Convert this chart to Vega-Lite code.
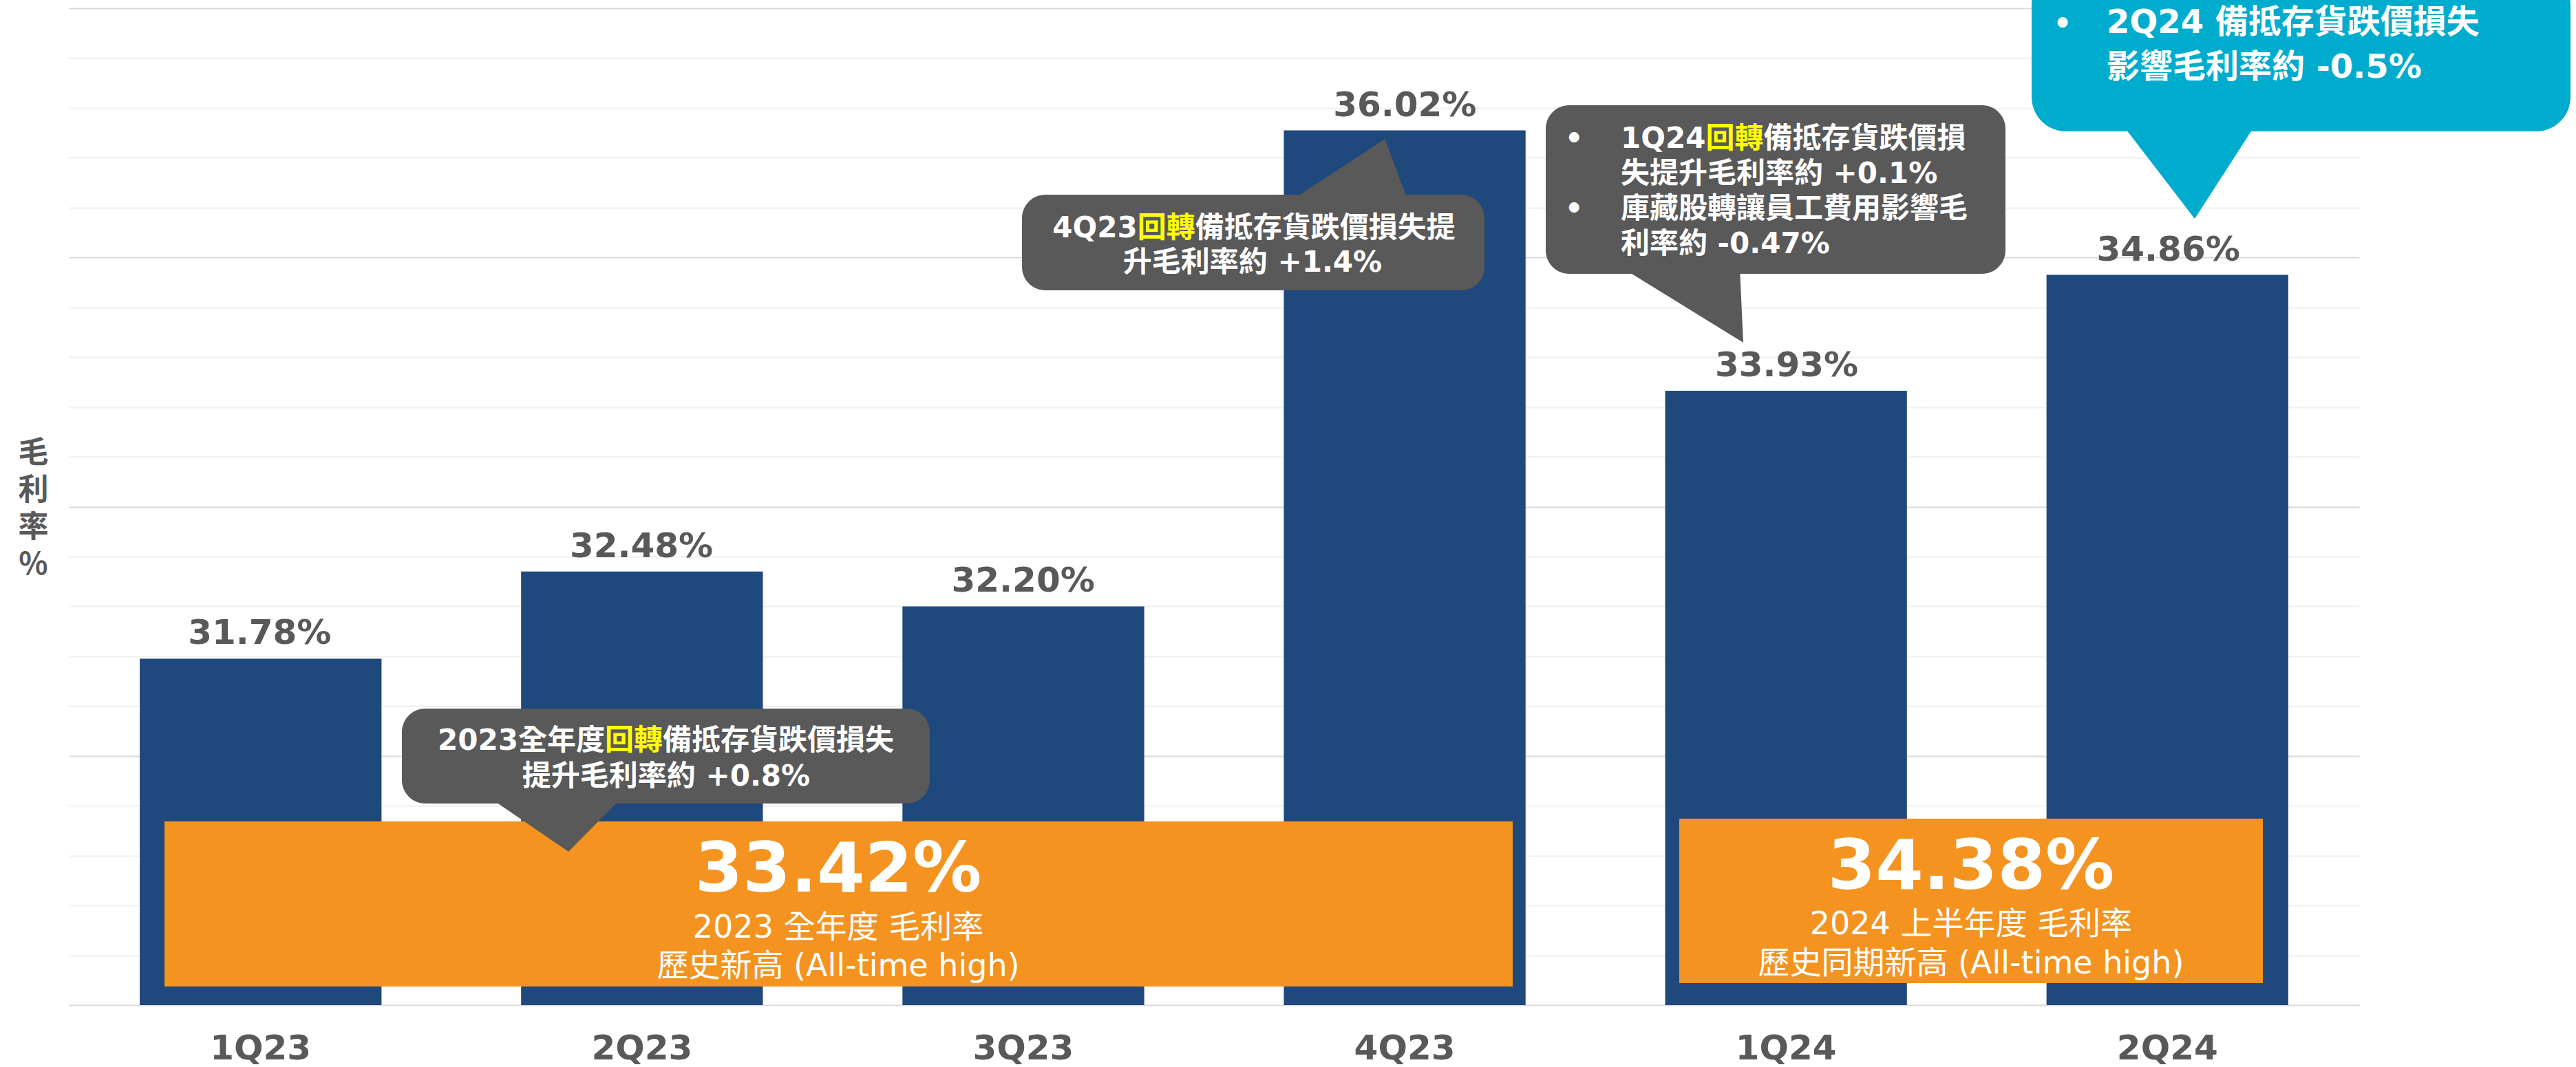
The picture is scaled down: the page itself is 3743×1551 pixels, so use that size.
{
  "$schema": "https://vega.github.io/schema/vega-lite/v6.json",
  "width": 3328,
  "height": 1449,
  "autosize": {"type": "none"},
  "padding": {"left": 100, "top": 12, "right": 315, "bottom": 90},
  "background": "#ffffff",
  "config": {"view": {"stroke": null}},
  "datasets": {
    "bars": [
      {"q": "1Q23", "gm": 31.78, "label": "31.78%"},
      {"q": "2Q23", "gm": 32.48, "label": "32.48%"},
      {"q": "3Q23", "gm": 32.20, "label": "32.20%"},
      {"q": "4Q23", "gm": 36.02, "label": "36.02%"},
      {"q": "1Q24", "gm": 33.93, "label": "33.93%"},
      {"q": "2Q24", "gm": 34.86, "label": "34.86%"}
    ],
    "summary": [
      {"id": "FY2023", "x0": 0.2506, "x1": 3.7824, "y0": 29.149, "y1": 30.474},
      {"id": "1H2024", "x0": 4.2187, "x1": 5.7476, "y0": 29.177, "y1": 30.496}
    ],
    "notes": [
      {"id": "c", "x0": 0.8726, "x1": 2.2554, "y0": 30.6177, "y1": 31.3796},
      {"id": "d", "x0": 2.497, "x1": 3.7085, "y0": 34.7364, "y1": 35.504},
      {"id": "e", "x0": 3.869, "x1": 5.0733, "y0": 34.869, "y1": 36.2216}
    ],
    "outlook": [
      {"id": "f", "x0": 5.1418, "x1": 6.5535, "y0": 36.0118, "y1": 37.3}
    ],
    "pointers": [
      {"id": "c", "box": "note", "y": 30.6619, "xl": 1.1034, "xr": 1.4477},
      {"id": "c", "box": "note", "y": 30.2312, "xl": 1.3089, "xr": 1.3089},
      {"id": "d", "box": "note", "y": 35.465, "xl": 3.2056, "xr": 3.5066},
      {"id": "d", "box": "note", "y": 35.951, "xl": 3.4479, "xr": 3.4479},
      {"id": "e", "box": "note", "y": 34.913, "xl": 4.0709, "xr": 4.3774},
      {"id": "e", "box": "note", "y": 34.3168, "xl": 4.3864, "xr": 4.3864},
      {"id": "f", "box": "outlook", "y": 36.0725, "xl": 5.378, "xr": 5.7296},
      {"id": "f", "box": "outlook", "y": 35.3106, "xl": 5.5691, "xr": 5.5691}
    ],
    "texts": [
      {"role": "big", "t": "33.42%", "x": 2.0156, "y": 29.911},
      {"role": "big", "t": "34.38%", "x": 4.983, "y": 29.933},
      {"role": "sub", "t": "2023 全年度 毛利率", "x": 2.0156, "y": 29.541},
      {"role": "sub", "t": "歷史新高 (All-time high)", "x": 2.0156, "y": 29.232},
      {"role": "sub", "t": "2024 上半年度 毛利率", "x": 4.983, "y": 29.569},
      {"role": "sub", "t": "歷史同期新高 (All-time high)", "x": 4.983, "y": 29.254},
      {"role": "note_c", "t": "提升毛利率約 +0.8%", "x": 1.5649, "y": 30.7612},
      {"role": "note_c", "t": "升毛利率約 +1.4%", "x": 3.101, "y": 34.8854},
      {"role": "note_l", "t": "失提升毛利率約 +0.1%", "x": 4.0655, "y": 35.5977},
      {"role": "note_l", "t": "庫藏股轉讓員工費用影響毛", "x": 4.0655, "y": 35.3161},
      {"role": "note_l", "t": "利率約 -0.47%", "x": 4.0655, "y": 35.0345},
      {"role": "out", "t": "2Q24 備抵存貨跌價損失", "x": 5.3384, "y": 36.8012},
      {"role": "out", "t": "影響毛利率約 -0.5%", "x": 5.3384, "y": 36.4424},
      {"role": "bullet", "t": "•", "x": 3.943, "y": 35.8792},
      {"role": "bullet", "t": "•", "x": 3.943, "y": 35.3161},
      {"role": "bullet", "t": "•", "x": 5.223, "y": 36.8012}
    ],
    "segs": [
      {"part": "pre", "t": "2023全年度", "x": 1.40427, "y": 31.0483},
      {"part": "hi", "t": "回轉", "x": 1.40427, "y": 31.0483},
      {"part": "rest", "t": "備抵存貨跌價損失", "x": 1.55572, "y": 31.0483},
      {"part": "pre", "t": "4Q23", "x": 2.79932, "y": 35.1615},
      {"part": "hi", "t": "回轉", "x": 2.79932, "y": 35.1615},
      {"part": "rest", "t": "備抵存貨跌價損失提", "x": 2.95076, "y": 35.1615},
      {"part": "pre", "t": "1Q24", "x": 4.28798, "y": 35.8792},
      {"part": "hi", "t": "回轉", "x": 4.28798, "y": 35.8792},
      {"part": "rest", "t": "備抵存貨跌價損", "x": 4.43942, "y": 35.8792}
    ]
  },
  "layer": [
    {
      "data": {"name": "bars"},
      "mark": {"type": "bar", "color": "#1F487C"},
      "encoding": {
        "x": {
          "field": "q", "type": "nominal", "sort": null,
          "scale": {"paddingInner": 0.366, "paddingOuter": 0.186},
          "axis": {
            "title": null, "labelAngle": 0, "ticks": false, "tickSize": 0, "domain": false, "grid": false,
            "labelFont": "DejaVu Sans", "labelFontWeight": "bold", "labelFontSize": 50,
            "labelColor": "#595959", "labelBaseline": "alphabetic", "labelPadding": 78
          }
        },
        "y": {
          "field": "gm", "type": "quantitative",
          "scale": {"domain": [29, 37], "zero": false, "nice": false},
          "axis": {
            "title": ["毛", "利", "率", "%"],
            "titleAngle": 0, "titleX": -52, "titleY": 647,
            "titleAlign": "center", "titleBaseline": "middle",
            "titleFont": "'Noto Sans CJK TC', 'DejaVu Sans'", "titleFontSize": 44, "titleFontWeight": "bold",
            "titleColor": "#595959", "titleLineHeight": 54,
            "labels": false, "ticks": false, "domain": false, "grid": true,
            "values": [29, 29.2, 29.4, 29.6, 29.8, 30, 30.2, 30.4, 30.6, 30.8, 31, 31.2, 31.4, 31.6, 31.8, 32, 32.2, 32.4, 32.6, 32.8, 33, 33.2, 33.4, 33.6, 33.8, 34, 34.2, 34.4, 34.6, 34.8, 35, 35.2, 35.4, 35.6, 35.8, 36, 36.2, 36.4, 36.6, 36.8, 37],
            "gridWidth": 2,
            "gridColor": {"condition": {"test": "abs(datum.value - round(datum.value)) < 0.01", "value": "#D9D9D9"}, "value": "#F0F0F0"}
          }
        },
        "y2": {"datum": 29}
      }
    },
    {
      "data": {"name": "bars"},
      "mark": {"type": "text", "font": "DejaVu Sans", "fontWeight": "bold", "fontSize": 50, "color": "#595959", "baseline": "alphabetic", "dy": -21},
      "encoding": {
        "x": {"field": "q", "type": "nominal", "sort": null, "scale": {"paddingInner": 0.366, "paddingOuter": 0.186}, "axis": null},
        "y": {"field": "gm", "type": "quantitative"},
        "text": {"field": "label"}
      }
    },
    {
      "data": {"name": "summary"},
      "mark": {"type": "rect", "color": "#F49320"},
      "encoding": {
        "x": {"field": "x0", "type": "quantitative", "scale": {"domain": [0, 6], "nice": false, "zero": false}, "axis": null},
        "x2": {"field": "x1"},
        "y": {"field": "y0", "type": "quantitative"},
        "y2": {"field": "y1"}
      }
    },
    {
      "data": {"name": "notes"},
      "mark": {"type": "rect", "color": "#595959", "cornerRadius": 34},
      "encoding": {
        "x": {"field": "x0", "type": "quantitative", "scale": {"domain": [0, 6], "nice": false, "zero": false}, "axis": null},
        "x2": {"field": "x1"},
        "y": {"field": "y0", "type": "quantitative"},
        "y2": {"field": "y1"}
      }
    },
    {
      "data": {"name": "outlook"},
      "mark": {"type": "rect", "color": "#00ACCD", "cornerRadius": 50},
      "encoding": {
        "x": {"field": "x0", "type": "quantitative", "scale": {"domain": [0, 6], "nice": false, "zero": false}, "axis": null},
        "x2": {"field": "x1"},
        "y": {"field": "y0", "type": "quantitative"},
        "y2": {"field": "y1"}
      }
    },
    {
      "data": {"name": "pointers"},
      "mark": {"type": "area", "orient": "horizontal"},
      "encoding": {
        "y": {"field": "y", "type": "quantitative"},
        "x": {"field": "xl", "type": "quantitative", "scale": {"domain": [0, 6], "nice": false, "zero": false}, "axis": null},
        "x2": {"field": "xr"},
        "detail": {"field": "id"},
        "color": {"field": "box", "type": "nominal", "scale": {"domain": ["note", "outlook"], "range": ["#595959", "#00ACCD"]}, "legend": null}
      }
    },
    {
      "data": {"name": "texts"},
      "transform": [{"filter": "datum.role === 'big'"}],
      "mark": {"type": "text", "font": "DejaVu Sans", "fontWeight": "bold", "fontSize": 100, "color": "#ffffff", "align": "center", "baseline": "alphabetic"},
      "encoding": {
        "x": {"field": "x", "type": "quantitative", "scale": {"domain": [0, 6], "nice": false, "zero": false}, "axis": null},
        "y": {"field": "y", "type": "quantitative"},
        "text": {"field": "t"}
      }
    },
    {
      "data": {"name": "texts"},
      "transform": [{"filter": "datum.role === 'sub'"}],
      "mark": {"type": "text", "font": "'DejaVu Sans', 'Noto Sans CJK TC'", "fontWeight": "normal", "fontSize": 46, "color": "#ffffff", "align": "center", "baseline": "alphabetic"},
      "encoding": {
        "x": {"field": "x", "type": "quantitative", "scale": {"domain": [0, 6], "nice": false, "zero": false}, "axis": null},
        "y": {"field": "y", "type": "quantitative"},
        "text": {"field": "t"}
      }
    },
    {
      "data": {"name": "texts"},
      "transform": [{"filter": "datum.role === 'note_c'"}],
      "mark": {"type": "text", "font": "'DejaVu Sans', 'Noto Sans CJK TC'", "fontWeight": "bold", "fontSize": 42, "color": "#ffffff", "align": "center", "baseline": "alphabetic"},
      "encoding": {
        "x": {"field": "x", "type": "quantitative", "scale": {"domain": [0, 6], "nice": false, "zero": false}, "axis": null},
        "y": {"field": "y", "type": "quantitative"},
        "text": {"field": "t"}
      }
    },
    {
      "data": {"name": "texts"},
      "transform": [{"filter": "datum.role === 'note_l'"}],
      "mark": {"type": "text", "font": "'DejaVu Sans', 'Noto Sans CJK TC'", "fontWeight": "bold", "fontSize": 42, "color": "#ffffff", "align": "left", "baseline": "alphabetic"},
      "encoding": {
        "x": {"field": "x", "type": "quantitative", "scale": {"domain": [0, 6], "nice": false, "zero": false}, "axis": null},
        "y": {"field": "y", "type": "quantitative"},
        "text": {"field": "t"}
      }
    },
    {
      "data": {"name": "segs"},
      "transform": [{"filter": "datum.part === 'pre'"}],
      "mark": {"type": "text", "font": "'DejaVu Sans', 'Noto Sans CJK TC'", "fontWeight": "bold", "fontSize": 42, "color": "#ffffff", "align": "right", "baseline": "alphabetic"},
      "encoding": {
        "x": {"field": "x", "type": "quantitative", "scale": {"domain": [0, 6], "nice": false, "zero": false}, "axis": null},
        "y": {"field": "y", "type": "quantitative"},
        "text": {"field": "t"}
      }
    },
    {
      "data": {"name": "segs"},
      "transform": [{"filter": "datum.part === 'hi'"}],
      "mark": {"type": "text", "font": "'DejaVu Sans', 'Noto Sans CJK TC'", "fontWeight": "bold", "fontSize": 42, "color": "#FFFF00", "align": "left", "baseline": "alphabetic"},
      "encoding": {
        "x": {"field": "x", "type": "quantitative", "scale": {"domain": [0, 6], "nice": false, "zero": false}, "axis": null},
        "y": {"field": "y", "type": "quantitative"},
        "text": {"field": "t"}
      }
    },
    {
      "data": {"name": "segs"},
      "transform": [{"filter": "datum.part === 'rest'"}],
      "mark": {"type": "text", "font": "'DejaVu Sans', 'Noto Sans CJK TC'", "fontWeight": "bold", "fontSize": 42, "color": "#ffffff", "align": "left", "baseline": "alphabetic"},
      "encoding": {
        "x": {"field": "x", "type": "quantitative", "scale": {"domain": [0, 6], "nice": false, "zero": false}, "axis": null},
        "y": {"field": "y", "type": "quantitative"},
        "text": {"field": "t"}
      }
    },
    {
      "data": {"name": "texts"},
      "transform": [{"filter": "datum.role === 'out'"}],
      "mark": {"type": "text", "font": "'DejaVu Sans', 'Noto Sans CJK TC'", "fontWeight": "bold", "fontSize": 48, "color": "#ffffff", "align": "left", "baseline": "alphabetic"},
      "encoding": {
        "x": {"field": "x", "type": "quantitative", "scale": {"domain": [0, 6], "nice": false, "zero": false}, "axis": null},
        "y": {"field": "y", "type": "quantitative"},
        "text": {"field": "t"}
      }
    },
    {
      "data": {"name": "texts"},
      "transform": [{"filter": "datum.role === 'bullet'"}],
      "mark": {"type": "text", "font": "DejaVu Sans", "fontWeight": "bold", "fontSize": 42, "color": "#ffffff", "align": "center", "baseline": "alphabetic"},
      "encoding": {
        "x": {"field": "x", "type": "quantitative", "scale": {"domain": [0, 6], "nice": false, "zero": false}, "axis": null},
        "y": {"field": "y", "type": "quantitative"},
        "text": {"field": "t"}
      }
    }
  ],
  "resolve": {"scale": {"x": "independent"}}
}
